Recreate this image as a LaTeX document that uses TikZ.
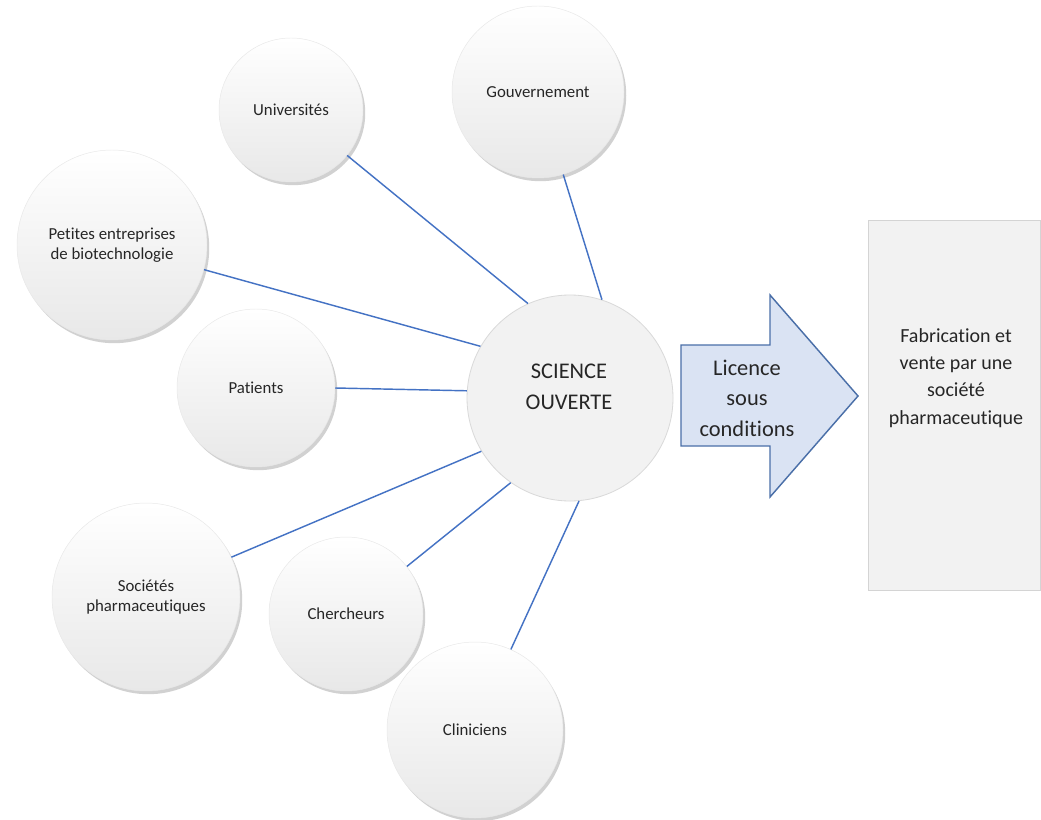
\documentclass[tikz,border=0pt]{standalone}
\usepackage{fontspec}
\setmainfont{Carlito}[Ligatures={NoCommon}]
\usetikzlibrary{shadows}
\definecolor{lineblue}{HTML}{4472C4}
\definecolor{arrowfill}{HTML}{DAE3F3}
\definecolor{arrowedge}{HTML}{4A6FA8}
\definecolor{boxfill}{HTML}{F2F2F2}
\definecolor{boxedge}{HTML}{D4D4D4}
\definecolor{txt}{HTML}{262626}
\begin{document}
\begin{tikzpicture}[x=0.625pt,y=-0.625pt,
  actor/.style={circle, draw=gray!18, line width=0.3pt, top color=white, bottom color=gray!18,
    drop shadow={shadow xshift=1.4pt, shadow yshift=-2pt, opacity=0.45, fill=gray!80},
    text=txt, font=\fontsize{10.5}{12.5}\selectfont, align=center, inner sep=0pt},
  hub/.style={circle, draw=gray!30, line width=0.5pt, fill=boxfill, inner sep=0pt},
  link/.style={draw=lineblue, line width=0.9pt},
  bigtext/.style={text=txt, font=\fontsize{14}{19}\selectfont, align=center},
]
\fill[white] (0,0) rectangle (1041,819);
\useasboundingbox (0,0) rectangle (1041,819);

% satellites
\node[actor, minimum size=90pt] (uni) at (291,110) {Universités};
\node[actor, minimum size=107.5pt] (gov) at (538,92) {Gouvernement};
\node[actor, minimum size=118.75pt] (bio) at (112,245) {Petites entreprises\\de biotechnologie};
\node[actor, minimum size=98.75pt] (pat) at (256,388) {Patients};
\node[actor, minimum size=117.5pt] (pharma) at (146,597) {Sociétés\\pharmaceutiques};
\node[actor, minimum size=96.25pt] (cher) at (346,614) {Chercheurs};
\node[actor, minimum size=110pt] (clin) at (475,730) {Cliniciens};

% hub
\node[hub, minimum size=128.75pt] (sc) at (570,398) {};
\node[bigtext] (sct) at (569,387) {SCIENCE\\OUVERTE};

% links
\draw[link] (uni.-39) -- (sc.114);
\draw[link] (gov.-73) -- (sc.72);
\draw[link] (bio.-15) -- (sc.150);
\draw[link] (pat.0) -- (sc.176);
\draw[link] (pharma.25) -- (sc.211);
\draw[link] (cher.38) -- (sc.235);
\draw[link] (clin.66) -- (sc.275);

% arrow
\draw[fill=arrowfill, draw=arrowedge, line width=0.9pt]
  (681,345) -- (770,345) -- (770,295) -- (858,396) -- (770,497) -- (770,446) -- (681,446) -- cycle;
\node[bigtext] (lic) at (747,398) {Licence\\sous\\conditions};

% box
\node[draw=boxedge, fill=boxfill, line width=0.6pt, minimum width=107.5pt, minimum height=231.25pt, inner sep=0pt] (box) at (954,405) {};
\node[text=txt, font=\fontsize{12.5}{17}\selectfont, align=center] (boxt) at (956,378) {Fabrication et\\vente par une\\société\\pharmaceutique};
\end{tikzpicture}
\end{document}
